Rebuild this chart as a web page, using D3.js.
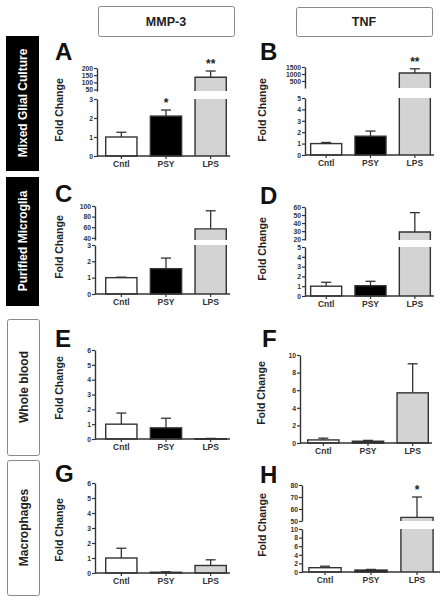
<!DOCTYPE html>
<html><head><meta charset="utf-8">
<script src="https://cdn.jsdelivr.net/npm/d3@7"></script>
<style>
body{margin:0;background:#fff;}
text{font-family:"Liberation Sans",Arial,sans-serif;}
</style></head>
<body><svg id="c" width="446" height="600"></svg>
<script>
// ---------- data ----------
const groups = ["Cntl", "PSY", "LPS"];
const columnTitles = ["MMP-3", "TNF"];
const rowTitles = ["Mixed Glial Culture", "Purified Microglia", "Whole blood", "Macrophages"];
const panelLetters = ["A", "B", "C", "D", "E", "F", "G", "H"];

const mmp3Mixed = [1.0, 2.1, 136];      const mmp3MixedErr = [0.25, 0.32, 43];
const tnfMixed = [1.0, 1.65, 1070];     const tnfMixedErr = [0.1, 0.45, 300];
const mmp3Microglia = [1.0, 1.55, 57];  const mmp3MicrogliaErr = [0.03, 0.65, 34];
const tnfMicroglia = [1.0, 1.05, 29];   const tnfMicrogliaErr = [0.4, 0.45, 24];
const mmp3Blood = [1.0, 0.75, 0.02];    const mmp3BloodErr = [0.75, 0.65, 0.02];
const tnfBlood = [0.35, 0.2, 5.7];      const tnfBloodErr = [0.2, 0.1, 3.3];
const mmp3Macro = [1.0, 0.05, 0.5];     const mmp3MacroErr = [0.65, 0.03, 0.38];
const tnfMacro = [1.0, 0.45, 53];       const tnfMacroErr = [0.35, 0.15, 17];

const stars = { A: ["", "*", "**"], B: ["", "", "**"], H: ["", "", "*"] };

const ticksA = { lower: [0, 1, 2, 3], upper: [50, 100, 150, 200] };
const ticksB = { lower: [0, 1, 2, 3, 4, 5], upper: [500, 1000, 1500] };
const ticksC = { lower: [0, 1, 2, 3], upper: [40, 60, 80, 100] };
const ticksD = { lower: [0, 1, 2, 3, 4, 5], upper: [20, 30, 40, 50, 60] };
const ticksE = { lower: [0, 1, 2, 3, 4, 5, 6] };
const ticksF = { lower: [0, 2, 4, 6, 8, 10] };
const ticksG = { lower: [0, 1, 2, 3, 4, 5, 6] };
const ticksH = { lower: [0, 2, 4, 6, 8, 10], upper: [50, 60, 70, 80] };

// ---------- layout ----------
const panels = [
  { letter: "A", vals: mmp3Mixed, err: mmp3MixedErr, ticks: ticksA, ax: 97, band: [99, 233], xEnd: 230,
    low: { d: [0, 3], r: [156, 99] }, up: { d: [40, 200], r: [91, 68] }, lx: 55, ly: 60, fy: 110, fx: 63 },
  { letter: "B", vals: tnfMixed, err: tnfMixedErr, ticks: ticksB, ax: 305, band: [304, 437], xEnd: 434,
    low: { d: [0, 5], r: [155, 98] }, up: { d: [0, 1500], r: [88, 67] }, lx: 260, ly: 60, fy: 110, fx: 266 },
  { letter: "C", vals: mmp3Microglia, err: mmp3MicrogliaErr, ticks: ticksC, ax: 95, band: [99, 233], xEnd: 230,
    low: { d: [0, 3], r: [294, 245] }, up: { d: [36, 100], r: [240, 206] }, lx: 55, ly: 202, fy: 247, fx: 63 },
  { letter: "D", vals: tnfMicroglia, err: tnfMicrogliaErr, ticks: ticksD, ax: 305, band: [304, 437], xEnd: 434,
    low: { d: [0, 5], r: [296, 247] }, up: { d: [19, 60], r: [240, 207] }, lx: 260, ly: 204, fy: 249, fx: 266 },
  { letter: "E", vals: mmp3Blood, err: mmp3BloodErr, ticks: ticksE, ax: 95, band: [99, 233], xEnd: 230,
    low: { d: [0, 6], r: [439, 350] }, lx: 55, ly: 347, fy: 388, fx: 63 },
  { letter: "F", vals: tnfBlood, err: tnfBloodErr, ticks: ticksF, ax: 300, band: [301, 435], xEnd: 432,
    low: { d: [0, 10], r: [443, 355] }, lx: 262, ly: 347, fy: 393, fx: 265 },
  { letter: "G", vals: mmp3Macro, err: mmp3MacroErr, ticks: ticksG, ax: 95, band: [99, 233], xEnd: 230,
    low: { d: [0, 6], r: [573, 483] }, lx: 55, ly: 482, fy: 530, fx: 63 },
  { letter: "H", vals: tnfMacro, err: tnfMacroErr, ticks: ticksH, ax: 302, band: [302, 440], xEnd: 440,
    low: { d: [0, 10], r: [572, 529] }, up: { d: [50, 80], r: [521, 485] }, lx: 260, ly: 483, fy: 525, fx: 266 }
];

const fills = ["#ffffff", "#000000", "#d3d3d3"];
const ink = "#333";
const fmt = d3.format("d");

const svg = d3.select("#c");

// column headers
const headerBoxes = [{ x: 98, y: 6, w: 136, h: 30 }, { x: 296, y: 7, w: 136, h: 29 }];
columnTitles.forEach((t, i) => {
  const b = headerBoxes[i];
  svg.append("rect").attr("x", b.x + 0.5).attr("y", b.y + 0.5).attr("width", b.w).attr("height", b.h)
    .attr("rx", 2).attr("fill", "#fff").attr("stroke", "#8a8a8a").attr("stroke-width", 1);
  svg.append("text").attr("x", b.x + b.w / 2).attr("y", b.y + b.h / 2 + 4.5).attr("text-anchor", "middle")
    .attr("font-size", 12.5).attr("font-weight", "bold").attr("fill", "#222").text(t);
});

// row labels
const rowBoxes = [
  { x: 6, y: 36, w: 32, h: 134, dark: true },
  { x: 6, y: 177, w: 32, h: 128, dark: true },
  { x: 7, y: 319, w: 32, h: 136, dark: false },
  { x: 7, y: 460, w: 32, h: 135, dark: false }
];
rowTitles.forEach((t, i) => {
  const b = rowBoxes[i];
  svg.append("rect").attr("x", b.x + 0.5).attr("y", b.y + 0.5).attr("width", b.w).attr("height", b.h)
    .attr("rx", b.dark ? 0 : 2)
    .attr("fill", b.dark ? "#000" : "#fff").attr("stroke", b.dark ? "#000" : "#8a8a8a").attr("stroke-width", 1);
  const cx = b.x + b.w / 2 + 4.5, cy = b.y + b.h / 2;
  svg.append("text").attr("transform", `translate(${cx},${cy}) rotate(-90)`).attr("text-anchor", "middle")
    .attr("font-size", 12).attr("font-weight", "bold").attr("fill", b.dark ? "#fff" : "#222").text(t);
});

// panels
panels.forEach(p => {
  const g = svg.append("g");
  const x = d3.scaleBand().domain(groups).range(p.band).paddingInner(0.3).paddingOuter(0.15);
  const yL = d3.scaleLinear().domain(p.low.d).range(p.low.r);
  const yU = p.up ? d3.scaleLinear().domain(p.up.d).range(p.up.r) : null;
  const lowMax = p.low.d[1];
  const yOf = v => (yU && v > lowMax) ? yU(v) : yL(v);

  // panel letter
  g.append("text").attr("x", p.lx).attr("y", p.ly).attr("font-size", 24).attr("font-weight", "bold")
    .attr("fill", "#111").text(p.letter);
  // y title
  g.append("text").attr("transform", `translate(${p.fx},${p.fy}) rotate(-90)`).attr("text-anchor", "middle")
    .attr("font-size", 10.5).attr("font-weight", "bold").attr("fill", "#222").text("Fold Change");

  // bars
  groups.forEach((k, i) => {
    const v = p.vals[i], bx = x(k), bw = x.bandwidth();
    const st = { fill: fills[i], stroke: ink };
    if (yU && v > lowMax) {
      const yt = yU(v), yb = yU(p.up.d[0]);
      g.append("rect").attr("x", bx).attr("y", yt).attr("width", bw).attr("height", yb - yt).attr("fill", st.fill);
      g.append("path").attr("d", `M${bx},${yb}V${yt}H${bx + bw}V${yb}`).attr("fill", "none")
        .attr("stroke", ink).attr("stroke-width", 1.4);
      const lt = yL(lowMax), lb = yL(0);
      g.append("rect").attr("x", bx).attr("y", lt).attr("width", bw).attr("height", lb - lt).attr("fill", st.fill);
      g.append("path").attr("d", `M${bx},${lt}V${lb}M${bx + bw},${lt}V${lb}`).attr("fill", "none")
        .attr("stroke", ink).attr("stroke-width", 1.4);
    } else {
      const yt = yL(v), yb = yL(0);
      g.append("rect").attr("x", bx).attr("y", yt).attr("width", bw).attr("height", Math.max(0.5, yb - yt))
        .attr("fill", st.fill).attr("stroke", ink).attr("stroke-width", 1.4);
    }
    // error bar (upper)
    const top = v + p.err[i];
    const cxm = bx + bw / 2, y0 = yOf(v), y1 = yOf(top);
    g.append("line").attr("x1", cxm).attr("x2", cxm).attr("y1", y0).attr("y2", y1).attr("stroke", ink).attr("stroke-width", 1.3);
    g.append("line").attr("x1", cxm - 5).attr("x2", cxm + 5).attr("y1", y1).attr("y2", y1).attr("stroke", ink).attr("stroke-width", 1.3);
    // stars
    const s = stars[p.letter];
    if (s && s[i]) {
      g.append("text").attr("x", cxm).attr("y", y1 - 3).attr("text-anchor", "middle")
        .attr("font-size", 12).attr("font-weight", "bold").attr("fill", "#222").text(s[i]);
    }
  });

  // y axes
  const styleAxis = sel => {
    sel.select(".domain").attr("stroke", ink).attr("stroke-width", 1.4);
    sel.selectAll(".tick line").attr("stroke", ink).attr("stroke-width", 1.2);
    sel.selectAll(".tick text").attr("font-size", 6.8).attr("font-weight", "bold").attr("fill", "#333")
      .attr("font-family", "Liberation Sans, Arial, sans-serif").attr("dy", "0.34em");
  };
  const axL = g.append("g").attr("transform", `translate(${p.ax},0)`)
    .call(d3.axisLeft(yL).tickValues(p.ticks.lower).tickFormat(fmt).tickSize(3).tickSizeOuter(0).tickPadding(1));
  styleAxis(axL);
  if (yU) {
    const axU = g.append("g").attr("transform", `translate(${p.ax},0)`)
      .call(d3.axisLeft(yU).tickValues(p.ticks.upper).tickFormat(fmt).tickSize(3).tickSizeOuter(0).tickPadding(1));
    styleAxis(axU);
  }

  // x axis
  const by = yL(0);
  const axX = g.append("g").attr("transform", `translate(0,${by})`)
    .call(d3.axisBottom(x).tickSize(3).tickSizeOuter(0).tickPadding(2));
  axX.select(".domain").remove();
  axX.selectAll(".tick line").attr("stroke", ink).attr("stroke-width", 1.2);
  axX.selectAll(".tick text").attr("font-size", 8.5).attr("font-weight", "bold").attr("fill", "#333")
    .attr("font-family", "Liberation Sans, Arial, sans-serif");
  g.append("line").attr("x1", p.ax).attr("x2", p.xEnd).attr("y1", by).attr("y2", by)
    .attr("stroke", ink).attr("stroke-width", 1.4);
});
</script>
</body></html>
